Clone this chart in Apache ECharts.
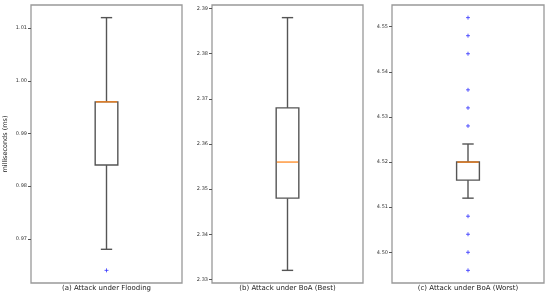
<!DOCTYPE html>
<html>
<head>
<meta charset="utf-8">
<script src="https://cdn.jsdelivr.net/npm/echarts@6/dist/echarts.min.js"></script>
<style>
  html, body { margin: 0; padding: 0; background: #fff; }
  #main { width: 550px; height: 298px; }
</style>
</head>
<body>
<div id="main"></div>
<script>
// panel labels
const panelNames = ['(a) Attack under Flooding', '(b) Attack under BoA (Best)', '(c) Attack under BoA (Worst)']

// [low whisker, Q1, median, Q3, high whisker]
const floodingBox = [0.968, 0.984, 0.996, 0.996, 1.012]
const bestBox = [2.332, 2.348, 2.356, 2.368, 2.388]
const worstBox = [4.512, 4.516, 4.520, 4.520, 4.524]

// fliers
const floodingOutliers = [0.964]
const bestOutliers = []
const worstOutliers = [4.552, 4.548, 4.544, 4.536, 4.532, 4.528, 4.508, 4.504, 4.500, 4.496]

// tick labels
const floodingTicks = [0.97, 0.98, 0.99, 1.00, 1.01]
const bestTicks = [2.33, 2.34, 2.35, 2.36, 2.37, 2.38, 2.39]
const worstTicks = [4.50, 4.51, 4.52, 4.53, 4.54, 4.55]

// axis limits
const yRanges = [[0.9616, 1.0144], [2.3292, 2.3908], [4.4932, 4.5548]]

const boxes = [floodingBox, bestBox, worstBox]
const outliers = [floodingOutliers, bestOutliers, worstOutliers]
const ticks = [floodingTicks, bestTicks, worstTicks]

const grids = [
    { left: 31, right: 368, top: 5, bottom: 15 },
    { left: 212, right: 187, top: 5, bottom: 15 },
    { left: 392, right: 6, top: 5, bottom: 15 }
]

var myChart = echarts.init(document.getElementById('main'))

// box drawn through the axis scale
function renderBox(params, api) {
    let lo = api.coord([0, api.value(1)])
    let q1 = api.coord([0, api.value(2)])
    let med = api.coord([0, api.value(3)])
    let q3 = api.coord([0, api.value(4)])
    let hi = api.coord([0, api.value(5)])
    let band = api.size([1, 0])[0]
    let cx = lo[0]
    let w = band * 0.15
    let cw = w / 2
    let line = { stroke: '#555', lineWidth: 1.4, fill: null }
    return {
        type: 'group',
        children: [
            { type: 'line', shape: { x1: cx, y1: hi[1], x2: cx, y2: q3[1] }, style: line },
            { type: 'line', shape: { x1: cx, y1: q1[1], x2: cx, y2: lo[1] }, style: line },
            { type: 'line', shape: { x1: cx - cw / 2, y1: hi[1], x2: cx + cw / 2, y2: hi[1] }, style: line },
            { type: 'line', shape: { x1: cx - cw / 2, y1: lo[1], x2: cx + cw / 2, y2: lo[1] }, style: line },
            { type: 'rect', shape: { x: cx - w / 2, y: q3[1], width: w, height: q1[1] - q3[1] }, style: { stroke: '#555', lineWidth: 1.4, fill: '#fff' } },
            { type: 'line', shape: { x1: cx - w / 2 + 0.7, y1: med[1], x2: cx + w / 2 - 0.7, y2: med[1] }, style: { stroke: '#ff7f0e', lineWidth: 1.2 } }
        ]
    }
}

let xAxes = []
let yAxes = []
let series = []

for (let i = 0; i < 3; i++) {
    xAxes.push({
        type: 'category',
        gridIndex: i,
        data: [panelNames[i]],
        axisLine: { show: false },
        axisTick: { show: false },
        axisLabel: { fontSize: 7, color: '#222', margin: 2, fontFamily: 'DejaVu Sans' }
    })
    yAxes.push({
        type: 'value',
        gridIndex: i,
        min: yRanges[i][0],
        max: yRanges[i][1],
        name: i == 0 ? 'milliseconds (ms)' : '',
        nameLocation: 'middle',
        nameGap: 22,
        nameTextStyle: { fontSize: 6.5, color: '#222', fontFamily: 'DejaVu Sans' },
        axisLine: { show: false },
        splitLine: { show: false },
        axisTick: { show: true, length: 3, lineStyle: { color: '#555' }, customValues: ticks[i] },
        axisLabel: {
            fontSize: 5, color: '#333', margin: 4, fontFamily: 'DejaVu Sans',
            customValues: ticks[i],
            formatter: v => v.toFixed(2)
        }
    })
    let b = boxes[i]
    series.push({
        type: 'custom',
        xAxisIndex: i,
        yAxisIndex: i,
        renderItem: renderBox,
        encode: { x: 0, y: [1, 2, 3, 4, 5] },
        data: [[0, b[0], b[1], b[2], b[3], b[4]]],
        silent: true
    })
    series.push({
        type: 'scatter',
        xAxisIndex: i,
        yAxisIndex: i,
        symbol: 'path://M0,5L10,5M5,0L5,10',
        symbolSize: 4,
        itemStyle: { color: 'none', borderColor: '#3333ff', borderWidth: 1 },
        data: outliers[i].map(v => [0, v]),
        silent: true
    })
}

var option = {
    animation: false,
    grid: grids.map(g => Object.assign({ show: true, borderColor: '#999', borderWidth: 1.3 }, g)),
    xAxis: xAxes,
    yAxis: yAxes,
    series: series
}

myChart.setOption(option)
</script>
</body>
</html>
